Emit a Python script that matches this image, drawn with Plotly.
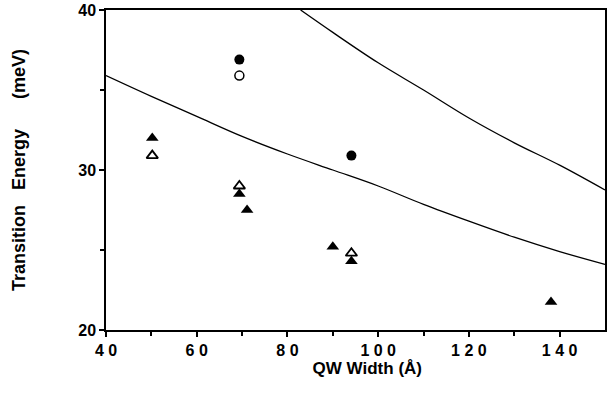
import plotly.graph_objects as go

# Theoretical curves
lower_x = [40, 50, 60, 70, 80, 90, 100, 110, 120, 130, 140, 150]
lower_y = [35.9, 34.6, 33.35, 32.1, 31.0, 30.0, 29.0, 27.85, 26.8, 25.8, 24.9, 24.1]
upper_x = [82.9, 90, 100, 110, 120, 130, 140, 150]
upper_y = [40.0, 38.6, 36.7, 35.0, 33.25, 31.7, 30.3, 28.75]

# Data points
filled_circle_x = [69.4, 94.1]
filled_circle_y = [36.9, 30.9]
open_circle_x = [69.4]
open_circle_y = [35.9]
filled_tri_x = [50.2, 69.4, 71.1, 90.0, 94.1, 138.1]
filled_tri_y = [32.0, 28.5, 27.5, 25.2, 24.3, 21.75]
open_tri_x = [50.2, 69.4, 94.1]
open_tri_y = [30.9, 29.0, 24.8]

x_ticks = [40, 60, 80, 100, 120, 140]
x_ticklabels = ["4 0", "6 0", "8 0", "1 0 0", "1 2 0", "1 4 0"]
y_ticks = [20, 30, 40]
y_ticklabels = ["20", "30", "40"]

FAM = "Liberation Sans"
NB = "\u00a0"

fig = go.Figure()
fig.add_trace(go.Scatter(x=lower_x, y=lower_y, mode="lines",
                         line=dict(color="black", width=1.3, shape="spline")))
fig.add_trace(go.Scatter(x=upper_x, y=upper_y, mode="lines",
                         line=dict(color="black", width=1.3, shape="spline")))
fig.add_trace(go.Scatter(x=filled_circle_x, y=filled_circle_y, mode="markers",
                         marker=dict(symbol="circle", size=10, color="black")))
fig.add_trace(go.Scatter(x=open_circle_x, y=open_circle_y, mode="markers",
                         marker=dict(symbol="circle-open", size=9, color="black",
                                     line=dict(width=1.5, color="black"))))
fig.add_trace(go.Scatter(x=filled_tri_x, y=filled_tri_y, mode="markers",
                         marker=dict(symbol="triangle-up", size=11, color="black")))
fig.add_trace(go.Scatter(x=open_tri_x, y=open_tri_y, mode="markers",
                         marker=dict(symbol="triangle-up-open", size=10, color="black",
                                     line=dict(width=1.8, color="black"))))

fig.update_layout(
    width=608, height=394,
    margin=dict(l=106, r=3, t=10, b=64),
    paper_bgcolor="white", plot_bgcolor="white",
    showlegend=False,
    font=dict(family=FAM, size=14, color="black"),
    xaxis=dict(range=[40, 150], tickvals=x_ticks,
               ticktext=["<b>%s</b>" % t for t in x_ticklabels],
               automargin=False,
               ticks="outside", ticklen=5, tickwidth=1.5, tickcolor="black",
               minor=dict(tickvals=[50, 70, 90, 110, 130], ticks="outside", ticklen=4, tickcolor="black"),
               showline=True, linecolor="black", linewidth=1.5, mirror=True,
               showgrid=False, zeroline=False,
               tickfont=dict(family=FAM, size=16, color="black"),
               title=dict(text="<b>" + NB * 5 + "QW Width (Å)</b>", standoff=3,
                          font=dict(family=FAM, size=17, color="black"))),
    yaxis=dict(range=[20, 40], tickvals=y_ticks,
               ticktext=["<b>%s</b>" % t for t in y_ticklabels],
               automargin=False,
               ticks="outside", ticklen=5, tickwidth=1.5, tickcolor="black",
               minor=dict(tickvals=[25, 35], ticks="outside", ticklen=4, tickcolor="black"),
               showline=True, linecolor="black", linewidth=1.5, mirror=True,
               showgrid=False, zeroline=False,
               tickfont=dict(family=FAM, size=16, color="black"),
               title=dict(text="<b>Transition" + NB * 3 + "Energy" + NB * 6 + "(meV)</b>", standoff=48,
                          font=dict(family=FAM, size=18, color="black"))),
)
fig.write_html("out.html", config={"displayModeBar": False},
               post_script="document.body.style.margin='0';document.body.style.padding='0';")
